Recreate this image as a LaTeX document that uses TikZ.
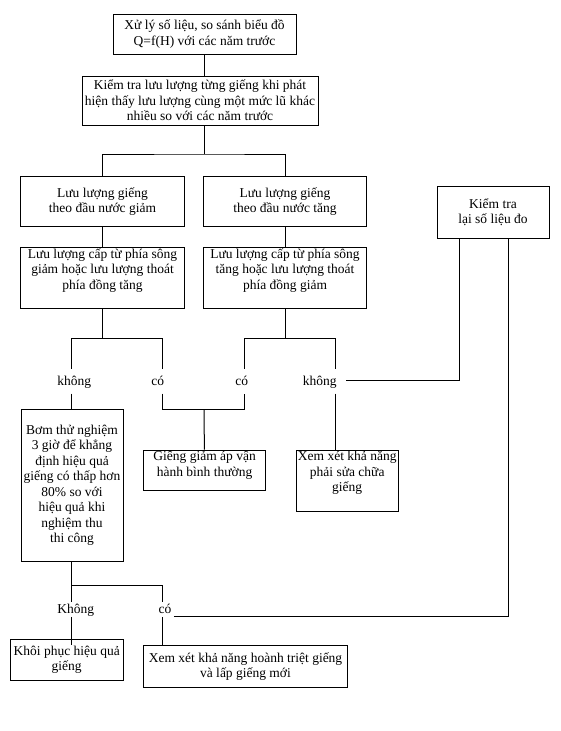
\documentclass[tikz,border=0pt]{standalone}
\usepackage{fontspec}
\setmainfont{Liberation Serif}
\begin{document}
\begin{tikzpicture}[x=1pt, y=-1pt, line width=1pt,
	box/.style={draw, align=center, inner sep=1pt, font=\fontsize{13.5pt}{15.5pt}\selectfont},
	lbl/.style={inner xsep=0pt, inner ysep=0pt, text height=11pt, text depth=3pt, anchor=base, font=\fontsize{13.5pt}{15.5pt}\selectfont}]
	\useasboundingbox (0,0) rectangle (560,731);

		\node[box, minimum width=183pt, minimum height=40pt] (xuly) at (204.5,34) {Xử lý số liệu, so sánh biểu đồ\\Q=f(H) với các năm trước};

		\node[box, minimum width=236pt, minimum height=49pt] (kiemtra) at (200,100.5) {Kiểm tra lưu lượng từng giếng khi phát\\hiện thấy lưu lượng cùng một mức lũ khác\\nhiều so với các năm trước};

		\node[box, minimum width=164pt, minimum height=50pt] (giam) at (102.5,201.7) {Lưu lượng giếng\\theo đầu nước giảm};

		\node[box, minimum width=163.5pt, minimum height=50pt] (tang) at (285,201.7) {Lưu lượng giếng\\theo đầu nước tăng};

		\node[box, minimum width=112pt, minimum height=52pt] (ktlai) at (493,212) {Kiểm tra\\lại số liệu đo};

		\node[box, minimum width=164pt, minimum height=61pt, text depth=18pt] (capgiam) at (102.5,277.8) {Lưu lượng cấp từ phía sông\\giảm hoặc lưu lượng thoát\\phía đồng tăng};

		\node[box, minimum width=163.5pt, minimum height=61pt, text depth=18pt] (captang) at (285,277.8) {Lưu lượng cấp từ phía sông\\tăng hoặc lưu lượng thoát\\phía đồng giảm};

		\node[box, minimum width=102pt, minimum height=151.7pt] (bom) at (72,485.2) {Bơm thử nghiệm\\3 giờ để khẳng\\định hiệu quả\\giếng có thấp hơn\\80\% so với\\hiệu quả khi\\nghiệm thu\\thi công};

		\node[box, minimum width=122pt, minimum height=39.3pt, text depth=13pt] (binhthuong) at (204.6,470.35) {Giếng giảm áp vận\\hành bình thường};

		\node[box, minimum width=102.4pt, minimum height=61pt, text depth=19pt] (suachua) at (347.2,481.2) {Xem xét khả năng\\phải sửa chữa\\giếng};

		\node[box, minimum width=112.6pt, minimum height=41pt] (khoiphuc) at (66.7,659.8) {Khôi phục hiệu quả\\giếng};

		\node[box, minimum width=204pt, minimum height=41.3pt] (hoanhtriet) at (245.5,666.6) {Xem xét khả năng hoành triệt giếng\\và lấp giếng mới};

		\node[lbl, inner ysep=5pt] (khong1) at (74.2,385) {không};
		\node[lbl, inner ysep=5pt] (co1) at (157.8,385) {có};
		\node[lbl, inner ysep=5pt] (co2) at (241.7,385) {có};
		\node[lbl, inner ysep=5pt] (khong2) at (319.7,385) {không};
		\node[lbl] (khong3) at (75.7,613.3) {Không};
		\node[lbl] (co3) at (165,613.3) {có};

		\coordinate (s1) at (204.6,154);
		\coordinate (a1) at (71.7,338.3);
		\coordinate (a2) at (162.3,338.3);
		\coordinate (b1) at (244.3,338.3);
		\coordinate (b2) at (335.3,338.3);
		\coordinate (c1) at (204,409.3);
		\coordinate (d1) at (71.7,585.7);
		\coordinate (d2) at (162.7,585.7);

		\draw (xuly) -- (xuly |- kiemtra.north);
		\draw (kiemtra.south -| s1) -- (s1);
		\draw (giam) |- (s1) -| (tang);
		\draw (giam) -- (capgiam);
		\draw (tang) -- (captang);

		\draw (capgiam) -- (capgiam |- a1);
		\draw (a1 |- khong1.north) -- (a1) -- (a2) -- (a2 |- co1.north);
		\draw (captang) -- (captang |- b1);
		\draw (b1 |- co2.north) -- (b1) -- (b2) -- (b2 |- khong2.north);

		\draw (a1 |- khong1.south) -- (a1 |- bom.north);
		\draw (a2 |- co1.south) |- (c1) -| (b1 |- co2.south);
		\draw (c1) -- (binhthuong);
		\draw (b2 |- khong2.south) -- (b2 |- suachua.north);
		\draw ([xshift=9pt, yshift=5pt]khong2.base east) -| ([xshift=-34pt]ktlai.south);

		\draw (d1 |- bom.south) -- (d1) -- (d2) -- (d2 |- co3.north);
		\draw (d1) -- (d1 |- khong3.north);
		\draw (d1 |- khong3.south) -- (d1 |- khoiphuc.north) -- ++(0,6);
		\draw (d2 |- co3.south) -- (d2 |- hoanhtriet.north);
		\draw ([xshift=2pt, yshift=-3.2pt]co3.base east) -| ([xshift=15pt]ktlai.south);
	\end{tikzpicture}
\end{document}
